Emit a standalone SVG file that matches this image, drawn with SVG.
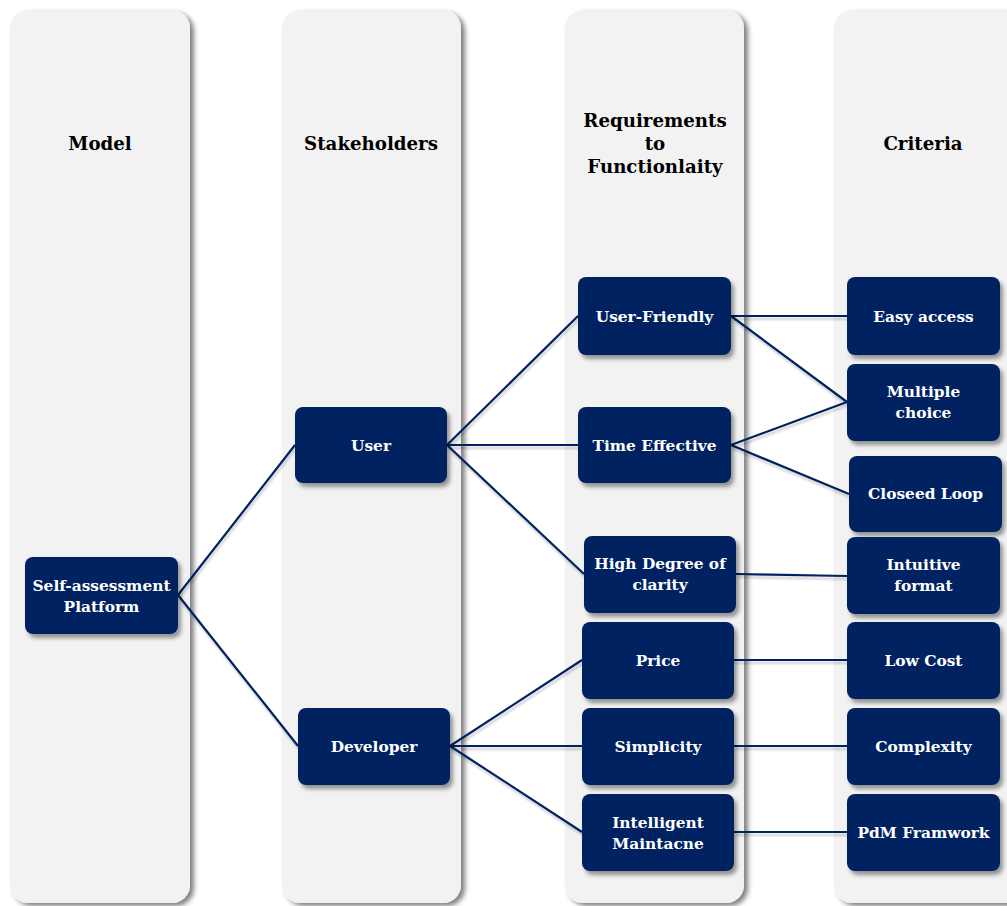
<svg xmlns="http://www.w3.org/2000/svg" width="1007" height="906" viewBox="0 0 1007 906">
  <defs>
    <filter id="laneShadow" x="-10%" y="-5%" width="130%" height="115%">
      <feGaussianBlur in="SourceAlpha" stdDeviation="2.5"/>
      <feOffset dx="4" dy="3" result="b"/>
      <feComponentTransfer><feFuncA type="linear" slope="0.5"/></feComponentTransfer>
      <feMerge><feMergeNode/><feMergeNode in="SourceGraphic"/></feMerge>
    </filter>
    <filter id="nodeShadow" x="-10%" y="-15%" width="130%" height="145%">
      <feGaussianBlur in="SourceAlpha" stdDeviation="2"/>
      <feOffset dx="3" dy="4" result="b"/>
      <feComponentTransfer><feFuncA type="linear" slope="0.4"/></feComponentTransfer>
      <feMerge><feMergeNode/><feMergeNode in="SourceGraphic"/></feMerge>
    </filter>
    <filter id="lineShadow" x="-5%" y="-5%" width="110%" height="115%">
      <feGaussianBlur in="SourceAlpha" stdDeviation="1.2"/>
      <feOffset dx="1" dy="3" result="b"/>
      <feComponentTransfer><feFuncA type="linear" slope="0.2"/></feComponentTransfer>
      <feMerge><feMergeNode/><feMergeNode in="SourceGraphic"/></feMerge>
    </filter>
  </defs>
  <style>
    .lane { fill: #F2F2F2; filter: url(#laneShadow); }
    .head { font-family: "DejaVu Serif", "Liberation Serif", serif; font-weight: bold; font-size: 18.2px; fill: #000; text-anchor: middle; }
    .box { fill: #002060; filter: url(#nodeShadow); }
    .lbl { font-family: "DejaVu Serif", "Liberation Serif", serif; font-weight: bold; font-size: 15.4px; fill: #FFFFFF; text-anchor: middle; }
    .link { stroke: #002060; stroke-width: 2.2; fill: none; }
  </style>

  <rect width="1007" height="906" fill="#FFFFFF"/>

  <!-- swimlanes -->
  <g id="lanes">
    <rect class="lane" x="10" y="10" width="180" height="893" rx="18"/>
    <rect class="lane" x="282" y="10" width="179" height="893" rx="18"/>
    <rect class="lane" x="565" y="10" width="179" height="893" rx="18"/>
    <rect class="lane" x="834" y="10" width="200" height="893" rx="18"/>
  </g>

  <!-- lane headings -->
  <g id="headings">
    <text class="head" x="100" y="150">Model</text>
    <text class="head" x="371" y="150">Stakeholders</text>
    <text class="head" x="655" y="127">Requirements</text>
    <text class="head" x="655" y="150">to</text>
    <text class="head" x="655" y="173">Functionlaity</text>
    <text class="head" x="923" y="150">Criteria</text>
  </g>

  <!-- connectors -->
  <g id="connectors" filter="url(#lineShadow)">
    <line class="link" x1="178" y1="595" x2="295" y2="445"/>
    <line class="link" x1="178" y1="595" x2="298" y2="746"/>
    <line class="link" x1="447" y1="445" x2="578" y2="316"/>
    <line class="link" x1="447" y1="445" x2="578" y2="445"/>
    <line class="link" x1="447" y1="445" x2="584" y2="574"/>
    <line class="link" x1="450" y1="746" x2="582" y2="660"/>
    <line class="link" x1="450" y1="746" x2="582" y2="746"/>
    <line class="link" x1="450" y1="746" x2="582" y2="832"/>
    <line class="link" x1="731" y1="316" x2="847" y2="316"/>
    <line class="link" x1="731" y1="316" x2="847" y2="402"/>
    <line class="link" x1="731" y1="445" x2="847" y2="402"/>
    <line class="link" x1="731" y1="445" x2="849" y2="494"/>
    <line class="link" x1="736" y1="574" x2="847" y2="576"/>
    <line class="link" x1="734" y1="660" x2="847" y2="660"/>
    <line class="link" x1="734" y1="746" x2="847" y2="746"/>
    <line class="link" x1="734" y1="832" x2="847" y2="832"/>
  </g>

  <!-- model -->
  <g id="node-platform">
    <rect class="box" x="25" y="557" width="153" height="77" rx="8"/>
    <text class="lbl" x="101.5" y="591">Self-assessment</text>
    <text class="lbl" x="101.5" y="612">Platform</text>
  </g>

  <!-- stakeholders -->
  <g id="node-user">
    <rect class="box" x="295" y="407" width="152" height="76" rx="8"/>
    <text class="lbl" x="371" y="451">User</text>
  </g>
  <g id="node-developer">
    <rect class="box" x="298" y="708" width="152" height="77" rx="8"/>
    <text class="lbl" x="374" y="752">Developer</text>
  </g>

  <!-- requirements -->
  <g id="node-user-friendly">
    <rect class="box" x="578" y="277" width="153" height="78" rx="8"/>
    <text class="lbl" x="654.5" y="322">User-Friendly</text>
  </g>
  <g id="node-time-effective">
    <rect class="box" x="578" y="407" width="153" height="76" rx="8"/>
    <text class="lbl" x="654.5" y="451">Time Effective</text>
  </g>
  <g id="node-clarity">
    <rect class="box" x="584" y="536" width="152" height="77" rx="8"/>
    <text class="lbl" x="660" y="569">High Degree of</text>
    <text class="lbl" x="660" y="590">clarity</text>
  </g>
  <g id="node-price">
    <rect class="box" x="582" y="622" width="152" height="77" rx="8"/>
    <text class="lbl" x="658" y="666">Price</text>
  </g>
  <g id="node-simplicity">
    <rect class="box" x="582" y="708" width="152" height="77" rx="8"/>
    <text class="lbl" x="658" y="752">Simplicity</text>
  </g>
  <g id="node-intelligent">
    <rect class="box" x="582" y="794" width="152" height="77" rx="8"/>
    <text class="lbl" x="658" y="828">Intelligent</text>
    <text class="lbl" x="658" y="849">Maintacne</text>
  </g>

  <!-- criteria -->
  <g id="node-easy-access">
    <rect class="box" x="847" y="277" width="153" height="78" rx="8"/>
    <text class="lbl" x="923.5" y="322">Easy access</text>
  </g>
  <g id="node-multiple-choice">
    <rect class="box" x="847" y="364" width="153" height="77" rx="8"/>
    <text class="lbl" x="923.5" y="397">Multiple</text>
    <text class="lbl" x="923.5" y="418">choice</text>
  </g>
  <g id="node-closed-loop">
    <rect class="box" x="849" y="456" width="153" height="76" rx="8"/>
    <text class="lbl" x="925.5" y="499">Closeed Loop</text>
  </g>
  <g id="node-intuitive">
    <rect class="box" x="847" y="537" width="153" height="77" rx="8"/>
    <text class="lbl" x="923.5" y="570">Intuitive</text>
    <text class="lbl" x="923.5" y="591">format</text>
  </g>
  <g id="node-low-cost">
    <rect class="box" x="847" y="622" width="153" height="77" rx="8"/>
    <text class="lbl" x="923.5" y="666">Low Cost</text>
  </g>
  <g id="node-complexity">
    <rect class="box" x="847" y="708" width="153" height="77" rx="8"/>
    <text class="lbl" x="923.5" y="752">Complexity</text>
  </g>
  <g id="node-pdm">
    <rect class="box" x="847" y="794" width="153" height="77" rx="8"/>
    <text class="lbl" x="923.5" y="838">PdM Framwork</text>
  </g>
</svg>
